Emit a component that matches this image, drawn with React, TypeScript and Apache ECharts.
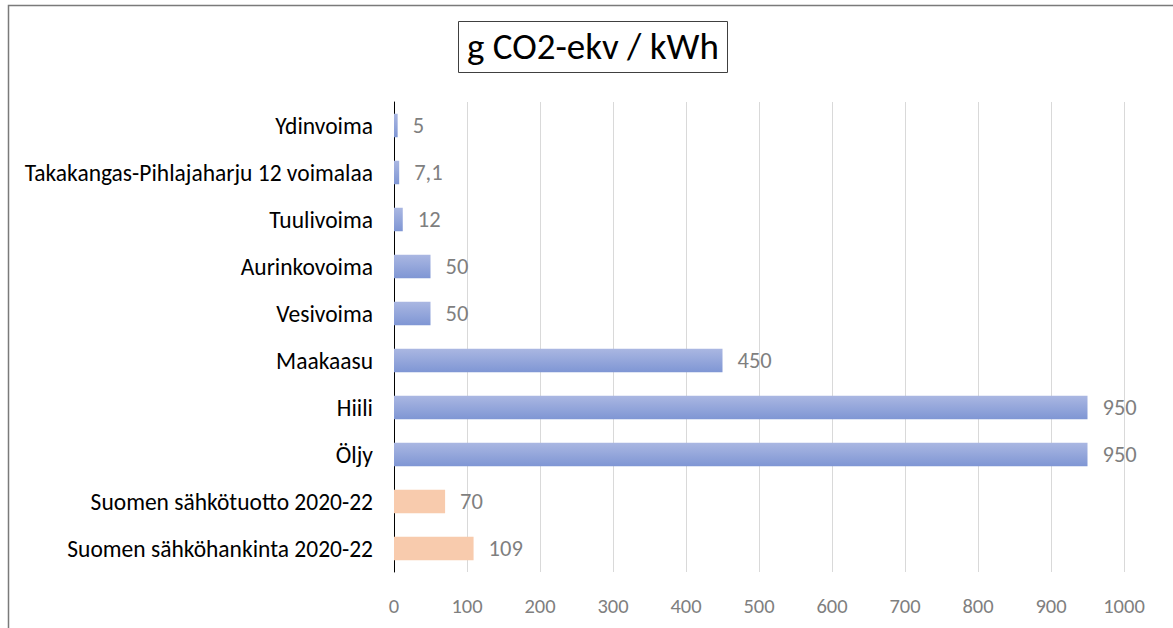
import React, { useEffect, useRef } from "react";
import * as echarts from "echarts";

const categories = [
  "Ydinvoima",
  "Takakangas-Pihlajaharju 12 voimalaa",
  "Tuulivoima",
  "Aurinkovoima",
  "Vesivoima",
  "Maakaasu",
  "Hiili",
  "Öljy",
  "Suomen sähkötuotto 2020-22",
  "Suomen sähköhankinta 2020-22",
];
const values = [5, 7.1, 12, 50, 50, 450, 950, 950, 70, 109];
const isFinland = [false, false, false, false, false, false, false, false, true, true];
const titleText = "g CO2-ekv / kWh";

export default function App() {
  const ref = useRef<HTMLDivElement>(null);
  useEffect(() => {
    if (!ref.current) return;
    const chart = echarts.init(ref.current, null, { renderer: "svg" });
    const blue = new echarts.graphic.LinearGradient(0, 0, 0, 1, [
      { offset: 0, color: "#aab7e2" },
      { offset: 1, color: "#7f96d4" },
    ]);
    const font = "Carlito, 'Liberation Sans Narrow', sans-serif";
    chart.setOption({
      animation: false,
      textStyle: { fontFamily: font },
      title: {
        text: titleText,
        left: 458,
        top: 21,
        padding: [7, 9, 8, 9],
        borderColor: "#404040",
        borderWidth: 1,
        textStyle: { fontSize: 37, fontWeight: "normal", color: "#000", fontFamily: font },
      },
      graphic: [
        {
          type: "rect",
          shape: { x: 8.5, y: 5.5, width: 1300, height: 800 },
          style: { fill: "none", stroke: "#7a7a7a", lineWidth: 1.5 },
          silent: true,
        },
      ],
      grid: { left: 394, right: 49, top: 102, bottom: 56, containLabel: false },
      xAxis: {
        type: "value",
        min: 0,
        max: 1000,
        interval: 100,
        axisLine: { show: false },
        axisTick: { show: false },
        splitLine: { lineStyle: { color: "#d9d9d9", width: 1 } },
        axisLabel: {
          color: "#7f7f7f",
          fontSize: 20.5,
          margin: 23,
          fontFamily: font,
          formatter: (v: number) => String(v),
        },
      },
      yAxis: {
        type: "category",
        data: categories,
        inverse: true,
        axisLine: { show: true, lineStyle: { color: "#000", width: 1 } },
        axisTick: { show: false },
        axisLabel: { color: "#000", fontSize: 23.5, margin: 21, fontFamily: font },
      },
      series: [
        {
          type: "bar",
          barWidth: "50%",
          data: values.map((v, i) => ({
            value: v,
            itemStyle: { color: isFinland[i] ? "#f8cbad" : blue },
          })),
          label: {
            show: true,
            position: "right",
            distance: 15,
            color: "#7f7f7f",
            fontSize: 22.5,
            fontFamily: font,
            formatter: (p: any) => String(p.value).replace(".", ","),
          },
        },
      ],
    });
    return () => chart.dispose();
  }, []);
  return (
    <div
      ref={ref}
      style={{ position: "fixed", left: 0, top: 0, width: 1173, height: 628, background: "#fff" }}
    />
  );
}
